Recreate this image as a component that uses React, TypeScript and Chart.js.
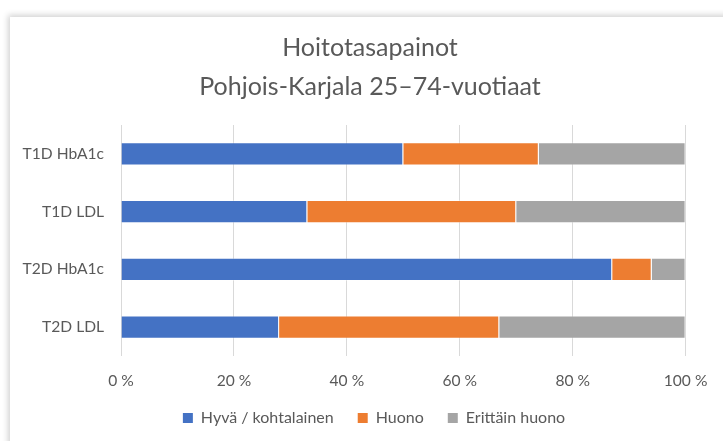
import React, { useEffect, useRef } from "react";
import { Chart, registerables } from "chart.js";

Chart.register(...registerables);

const categories = ["T1D HbA1c", "T1D LDL", "T2D HbA1c", "T2D LDL"];
const seriesNames = ["Hyvä / kohtalainen", "Huono", "Erittäin huono"];
const good = [50, 33, 87, 28];
const poor = [24, 37, 7, 39];
const veryPoor = [26, 30, 6, 33];
const xTicks = [0, 20, 40, 60, 80, 100];
const titleLines = ["Hoitotasapainot", "Pohjois-Karjala 25–74-vuotiaat"];

const FONT = "Lato";
const TEXT = "#595959";
const EDGE = "rgba(255,255,255,0.35)";

const placeBlocks = {
  id: "placeBlocks",
  afterLayout(chart: any) {
    const t = chart.titleBlock;
    if (t) {
      t.left = 27;
      t.right = 713;
    }
    const l = chart.legend;
    if (l) {
      const h = l.height;
      l.left = 35;
      l.right = 713;
      l.top = 386;
      l.bottom = 386 + h;
    }
  },
};

export default function App() {
  const ref = useRef<HTMLCanvasElement | null>(null);
  useEffect(() => {
    if (!ref.current) return;
    const chart = new Chart(ref.current, {
      type: "bar",
      data: {
        labels: categories,
        datasets: [
          { label: seriesNames[0], data: good, backgroundColor: "#4472C4", borderColor: EDGE, borderWidth: 1 },
          { label: seriesNames[1], data: poor, backgroundColor: "#ED7D31", borderColor: EDGE, borderWidth: 1 },
          { label: seriesNames[2], data: veryPoor, backgroundColor: "#A5A5A5", borderColor: EDGE, borderWidth: 1 },
        ],
      },
      plugins: [placeBlocks],
      options: {
        indexAxis: "y",
        animation: false,
        responsive: false,
        maintainAspectRatio: false,
        layout: { padding: { left: 10, right: 10, top: 0, bottom: 4 } },
        datasets: { bar: { barPercentage: 0.4, categoryPercentage: 1 } },
        plugins: {
          title: {
            display: true,
            text: titleLines,
            color: TEXT,
            font: { family: FONT, size: 25, weight: "normal", lineHeight: 1.56 },
            padding: { top: 28, bottom: 19 },
          },
          legend: {
            position: "bottom",
            maxHeight: 44,
            labels: {
              color: TEXT,
              font: { family: FONT, size: 16 },
              boxWidth: 10,
              boxHeight: 10,
              padding: 24,
              generateLabels: (c: any) =>
                c.data.datasets.map((d: any, i: number) => ({
                  text: d.label,
                  fillStyle: d.backgroundColor,
                  strokeStyle: d.backgroundColor,
                  lineWidth: 0,
                  fontColor: TEXT,
                  hidden: false,
                  datasetIndex: i,
                })),
            },
          },
          tooltip: { enabled: false },
        },
        scales: {
          x: {
            stacked: true,
            min: 0,
            max: 100,
            afterBuildTicks: (s: any) => {
              s.ticks = xTicks.map((v) => ({ value: v }));
            },
            afterFit: (s: any) => {
              s.height = 37;
            },
            ticks: {
              color: TEXT,
              font: { family: FONT, size: 15.6 },
              padding: 15.6,
              maxRotation: 0,
              callback: (v: any) => v + " %",
            },
            grid: { color: "#d9d9d9", lineWidth: 1, drawTicks: false },
            border: { display: false },
          },
          y: {
            stacked: true,
            afterFit: (s: any) => {
              s.width = 111;
            },
            ticks: {
              color: TEXT,
              font: { family: FONT, size: 15.6 },
              padding: 17,
            },
            grid: { display: false, drawTicks: false },
            border: { display: false },
          },
          yRight: {
            type: "linear",
            position: "right",
            display: true,
            afterFit: (s: any) => {
              s.width = 27;
            },
            ticks: { display: false },
            grid: { display: false, drawTicks: false },
            border: { display: false },
          },
        },
      },
    });
    return () => chart.destroy();
  }, []);
  return (
    <div style={{ position: "fixed", left: 0, top: 0, width: 723, height: 441, overflow: "hidden", background: "#fff" }}>
      <div
        style={{
          position: "absolute",
          left: 10,
          top: 17,
          width: 760,
          height: 480,
          background: "#fff",
          boxShadow: "0 0 6px 2px rgba(0,0,0,0.18)",
        }}
      />
      <canvas ref={ref} width={723} height={441} style={{ position: "absolute", left: 0, top: 0, width: 723, height: 441 }} />
    </div>
  );
}
